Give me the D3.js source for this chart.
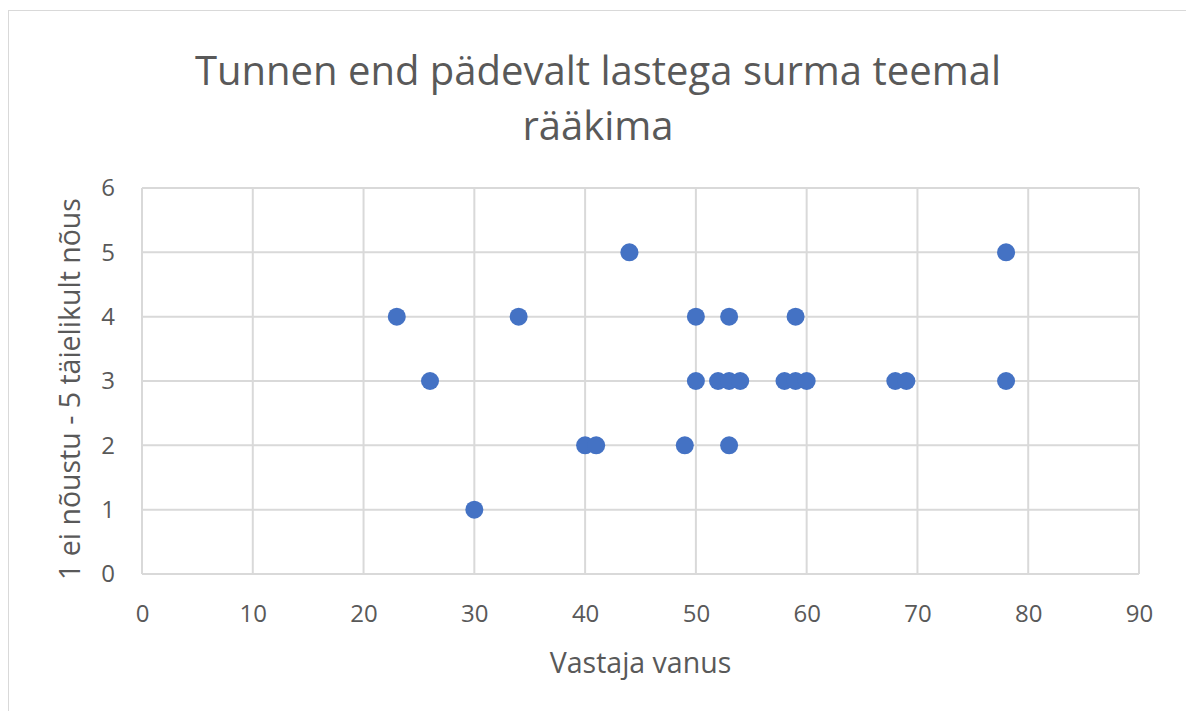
<!DOCTYPE html>
<html><head><meta charset="utf-8">
<script src="https://cdn.jsdelivr.net/npm/d3@7"></script>
<style>html,body{margin:0;padding:0;background:#fff;}svg{display:block;font-family:"Open Sans",sans-serif;}</style>
</head><body>
<svg id="c" width="1186" height="711"></svg>
<script>
const ages = [23, 26, 30, 34, 40, 41, 44, 49, 50, 50, 52, 53, 53, 53, 54, 58, 59, 59, 60, 68, 69, 78, 78];
const scores = [4, 3, 1, 4, 2, 2, 5, 2, 4, 3, 3, 3, 4, 2, 3, 3, 3, 4, 3, 3, 3, 5, 3];
const xTicks = [0, 10, 20, 30, 40, 50, 60, 70, 80, 90];
const yTicks = [0, 1, 2, 3, 4, 5, 6];
const titleLines = ["Tunnen end pädevalt lastega surma teemal", "rääkima"];
const xTitle = "Vastaja vanus";
const yTitle = "1 ei nõustu - 5 täielikult nõus";

const svg = d3.select("#c");
const m = {l:142, t:188, r:1139, b:574};
const x = d3.scaleLinear().domain([0,90]).range([m.l, m.r]);
const y = d3.scaleLinear().domain([0,6]).range([m.b, m.t]);
const txt = "#595959", grid = "#d9d9d9";

svg.append("rect").attr("x",8.5).attr("y",10.5).attr("width",1200).attr("height",720)
  .attr("fill","none").attr("stroke","#d9d9d9").attr("stroke-width",1);

const t = svg.append("text").attr("text-anchor","middle").attr("fill",txt).attr("font-size",40);
titleLines.forEach((s,i)=> t.append("tspan").attr("x",598).attr("y",85+i*55).text(s));

// grid
svg.append("g").selectAll("line").data(xTicks).join("line")
  .attr("x1",d=>x(d)).attr("x2",d=>x(d)).attr("y1",m.t).attr("y2",m.b)
  .attr("stroke",grid).attr("stroke-width",2);
svg.append("g").selectAll("line").data(yTicks).join("line")
  .attr("x1",m.l).attr("x2",m.r).attr("y1",d=>y(d)).attr("y2",d=>y(d))
  .attr("stroke",grid).attr("stroke-width",2);

const xa = svg.append("g").attr("transform",`translate(0,${m.b})`)
  .call(d3.axisBottom(x).tickValues(xTicks).tickFormat(d3.format("d")).tickSize(0));
xa.select(".domain").remove();
xa.selectAll("text").attr("fill",txt).attr("font-size",24).attr("font-family","Open Sans")
  .attr("y",48).attr("dy",0);
const ya = svg.append("g").attr("transform",`translate(${m.l},0)`)
  .call(d3.axisLeft(y).tickValues(yTicks).tickFormat(d3.format("d")).tickSize(0).tickPadding(27));
ya.select(".domain").remove();
ya.selectAll("text").attr("fill",txt).attr("font-size",24).attr("font-family","Open Sans");

svg.append("text").attr("x",(m.l+m.r)/2).attr("y",673).attr("text-anchor","middle")
  .attr("fill",txt).attr("font-size",28.5).text(xTitle);
svg.append("text").attr("transform",`translate(80,${(m.t+m.b)/2+8}) rotate(-90)`).attr("text-anchor","middle")
  .attr("fill",txt).attr("font-size",28.5).text(yTitle);

svg.append("g").selectAll("circle").data(ages.map((a,i)=>[a,scores[i]])).join("circle")
  .attr("cx",d=>x(d[0])).attr("cy",d=>y(d[1])).attr("r",9).attr("fill","#4472c4");
</script>
</body></html>
